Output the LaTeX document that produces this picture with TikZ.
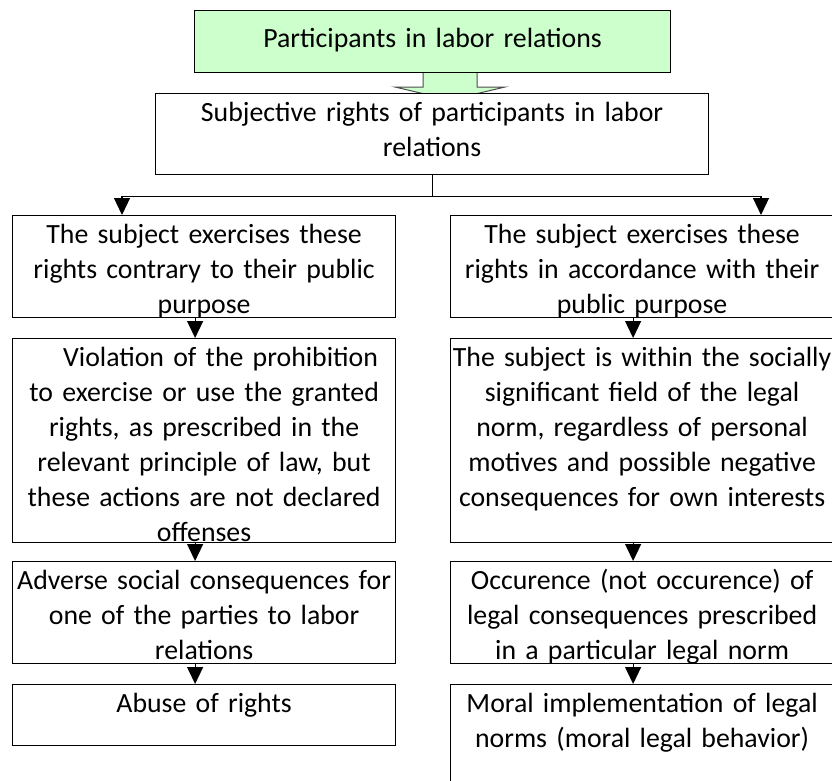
\documentclass[tikz,border=0pt]{standalone}
\usepackage{fontspec}
\setmainfont{Carlito}
\usetikzlibrary{arrows.meta}
\definecolor{lightgreen}{RGB}{204,255,204}

\begin{document}
\begin{tikzpicture}[x=1pt,y=-1pt]
	\useasboundingbox (0,0) rectangle (832,780);
	\clip (0,0) rectangle (832,780);

	% wide arrow below the title box
	\draw[fill=lightgreen,draw=black!70,line width=1pt] (423,72) -- (477,72) -- (477,87) -- (505,87)
		-- (450,100) -- (395,87) -- (423,87) -- cycle;

	\begin{scope}[every node/.style={draw,line width=1.2pt,fill=white,inner ysep=0pt,inner xsep=-10pt,
	              align=center,text width=403pt,text height=28pt,anchor=north west,
	              font=\fontsize{27.8}{35}\selectfont}]
		\node[fill=lightgreen,text width=496pt,text height=37pt,text depth=25pt] (P) at (194,10) {Participants in labor relations};
		\node[text width=573pt,text depth=53pt] (S) at (155,93) {Subjective rights of participants in labor\\relations};

		% left column
		\node[text depth=74pt] (L1) at (12,215) {The subject exercises these\\rights contrary to their public\\purpose};
		\node[text depth=176pt] (L2) at (12,338) {\hspace*{33pt}Violation of the prohibition\\to exercise or use the granted\\rights, as prescribed in the\\relevant principle of law, but\\these actions are not declared\\offenses};
		\node[text depth=74pt] (L3) at (12,561) {Adverse social consequences for\\one of the parties to labor\\relations};
		\node[text depth=33pt] (L4) at (12,684) {Abuse of rights};

		% right column
		\node[text depth=74pt] (R1) at (450,215) {The subject exercises these\\rights in accordance with their\\public purpose};
		\node[text depth=176pt] (R2) at (450,338) {The subject is within the socially\\significant field of the legal\\norm, regardless of personal\\motives and possible negative\\consequences for own interests};
		\node[text depth=74pt] (R3) at (450,561) {Occurence (not occurence) of\\legal consequences prescribed\\in a particular legal norm};
		\node[text depth=82pt] (R4) at (450,684) {Moral implementation of legal\\norms (moral legal behavior)};
	\end{scope}

	\begin{scope}[>={Triangle[width=16pt,length=17pt]},line width=1.2pt,
	              every edge/.style={draw=black}]
		\draw[->] (S.south) -- ++(0,21) -| ([xshift=110pt]L1.north west);
		\draw[->] (S.south) -- ++(0,21) -| ([xshift=311pt]R1.north west);

		\path ([xshift=-9pt]L1.south) edge[->] ([xshift=-9pt]L2.north);
		\path ([xshift=-9pt]L2.south) edge[->] ([xshift=-9pt]L3.north);
		\path ([xshift=-9pt]L3.south) edge[->] ([xshift=-9pt]L4.north);

		\path ([xshift=-9pt]R1.south) edge[->] ([xshift=-9pt]R2.north);
		\path ([xshift=-9pt]R2.south) edge[->] ([xshift=-9pt]R3.north);
		\path ([xshift=-9pt]R3.south) edge[->] ([xshift=-9pt]R4.north);
	\end{scope}
\end{tikzpicture}
\end{document}
